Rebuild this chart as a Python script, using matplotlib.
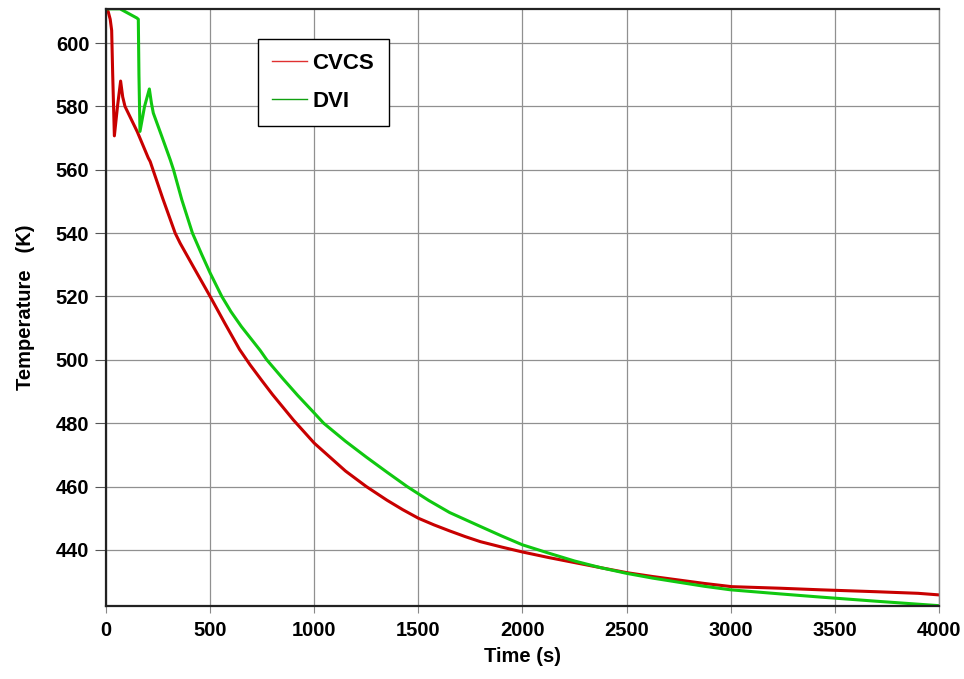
import numpy as np
import matplotlib
matplotlib.use("Agg")
import matplotlib.pyplot as plt
from matplotlib.lines import Line2D

# Data.
cvcsTime = [0, 10, 20, 27, 32, 40, 55, 70, 80, 91, 150, 203, 212, 272, 332, 356, 420, 500,
            570, 641, 692, 750, 800, 900, 1000, 1075, 1150, 1250, 1349, 1425, 1500, 1575,
            1650, 1725, 1798, 1900, 2003, 2125, 2250, 2375, 2503, 2625, 2750, 2875, 3005,
            3240, 3433, 3700, 3900, 4000]
cvcsTemp = [610.8, 610.0, 607.5, 604.0, 590.0, 570.7, 580.0, 588.0, 583.0, 580.0, 572.0, 563.7,
            562.6, 551.0, 540.0, 536.8, 529.3, 520.0, 511.6, 503.3, 498.4, 493.3, 489.0, 481.0,
            473.7, 469.3, 464.9, 460.0, 455.7, 452.7, 450.0, 447.9, 446.0, 444.2, 442.6, 440.9,
            439.3, 437.6, 436.0, 434.4, 432.8, 431.6, 430.5, 429.4, 428.4, 427.9, 427.4, 426.8,
            426.3, 425.8]

dviTime = [0, 67, 148, 155, 158, 163, 185, 208, 218, 227, 268, 308, 324, 364, 415, 460, 500,
           556, 600, 650, 692, 740, 772, 850, 920, 1000, 1045, 1150, 1250, 1350, 1446, 1550,
           1650, 1798, 1900, 2000, 2125, 2250, 2375, 2500, 2625, 2750, 2875, 3000, 3240, 3433,
           3700, 4000]
dviTemp = [610.8, 610.8, 607.9, 607.5, 590.0, 572.1, 580.0, 585.5, 581.0, 577.9, 570.5, 563.2,
           560.0, 550.5, 540.0, 533.2, 527.4, 520.0, 515.2, 510.5, 507.0, 503.0, 500.0, 494.0,
           488.8, 483.2, 480.0, 474.3, 469.3, 464.5, 460.0, 455.6, 451.8, 447.4, 444.4, 441.6,
           439.0, 436.5, 434.4, 432.6, 431.1, 429.8, 428.5, 427.4, 426.1, 425.1, 423.8, 422.4]

xTicks = np.arange(0, 4001, 500)
yTicks = np.arange(440, 601, 20)

fontList  = ["Liberation Sans", "DejaVu Sans"]
tickFont  = {"family": fontList, "weight": "bold", "size": 14.5}
labelFont = {"family": fontList, "weight": "bold", "size": 14.5}

fig = plt.figure(figsize=(9.64, 6.79), dpi=100)
ax  = fig.add_axes([0.110, 0.108, 0.864, 0.879])

ax.plot(cvcsTime, cvcsTemp, color="#c80000", linewidth=2.2)
ax.plot(dviTime, dviTemp, color="#10c810", linewidth=2.2)

ax.set_xlim(0, 4000)
ax.set_ylim(422.4, 610.8)
ax.set_xticks(xTicks)
ax.set_yticks(yTicks)
ax.set_xticklabels([str(v) for v in xTicks], fontdict=tickFont)
ax.set_yticklabels([str(v) for v in yTicks], fontdict=tickFont)
ax.tick_params(axis="x", direction="out", length=5, color="#888888", pad=6)
ax.tick_params(axis="y", direction="out", length=8, color="#555555", pad=4)

ax.grid(True, color="#909090", linewidth=0.9)
ax.set_axisbelow(True)
for side in ["left", "bottom", "top"]:
    ax.spines[side].set_color("#222222")
    ax.spines[side].set_linewidth(1.6)
ax.spines["right"].set_color("#888888")
ax.spines["right"].set_linewidth(1.0)

ax.set_xlabel("Time (s)", fontdict=labelFont, labelpad=5)
ax.set_ylabel("Temperature   (K)", fontdict=labelFont, labelpad=15)

handles = [Line2D([], [], color="#e03030", linewidth=1.0),
           Line2D([], [], color="#10a010", linewidth=1.0)]
leg = ax.legend(handles, ["CVCS", "DVI"], loc="upper left", bbox_to_anchor=(0.1825, 0.950),
                borderaxespad=0, fancybox=False, framealpha=1, edgecolor="black",
                handlelength=1.55, handletextpad=0.25, borderpad=0.65, labelspacing=0.75,
                prop={"family": fontList, "weight": "bold", "size": 16})
leg.get_frame().set_linewidth(1.0)

fig.savefig("out.png", dpi=100)
